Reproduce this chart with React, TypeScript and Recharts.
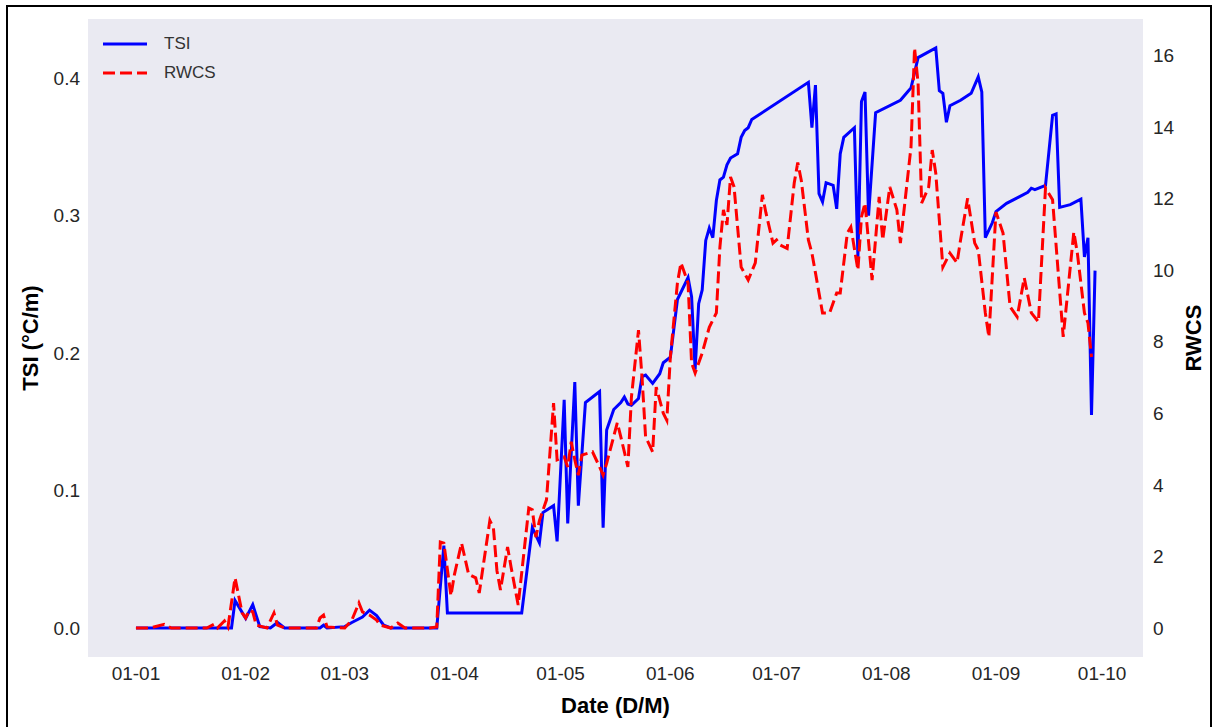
import React from 'react';
import { LineChart, Line, XAxis, YAxis, CartesianGrid, Legend, Label } from 'recharts';

// x axis: day of year, ticks on the first of each month
const MONTH_TICKS = [0, 31, 59, 90, 120, 151, 181, 212, 243, 273];
const MONTH_LABELS = ['01-01', '01-02', '01-03', '01-04', '01-05', '01-06', '01-07', '01-08', '01-09', '01-10'];
const TSI_TICKS = [0, 0.1, 0.2, 0.3, 0.4];
const RWCS_TICKS = [0, 2, 4, 6, 8, 10, 12, 14, 16];
const LEGEND_ORDER = ['TSI', 'RWCS'];

// TSI (°C/m)
const TSI_DAYS = [
  0, 27, 28, 31, 33, 35, 38, 40, 42, 52,
  53, 54, 59, 61, 64, 66, 68, 70, 72, 85,
  87, 88, 109, 112, 114, 115, 118, 119, 121, 122,
  124, 125, 127, 131, 132, 133, 135, 137, 138, 139,
  140, 142, 143, 144, 146, 148, 149, 151, 153, 156,
  157, 158, 159, 160, 161, 162, 163, 164, 165, 166,
  167, 168, 170, 171, 172, 173, 174, 190, 191, 192,
  193, 194, 195, 197, 198, 199, 200, 203, 204, 205,
  206, 207, 209, 216, 218, 219, 221, 226, 227, 228,
  229, 230, 233, 236, 238, 239, 240, 242, 243, 246,
  249, 252, 253, 254, 257, 259, 260, 261, 264, 267,
  268, 269, 270, 271,
];
const TSI_VALUES = [
  0, 0, 0.020, 0.007, 0.017, 0.001, 0, 0.004, 0, 0,
  0.002, 0, 0.001, 0.004, 0.008, 0.013, 0.009, 0.002, 0, 0,
  0.060, 0.011, 0.011, 0.073, 0.062, 0.084, 0.089, 0.063, 0.166, 0.076,
  0.179, 0.089, 0.164, 0.172, 0.073, 0.144, 0.159, 0.164, 0.168, 0.163,
  0.162, 0.167, 0.183, 0.184, 0.178, 0.185, 0.193, 0.197, 0.239, 0.255,
  0.241, 0.188, 0.236, 0.246, 0.282, 0.291, 0.284, 0.311, 0.326, 0.328,
  0.337, 0.342, 0.345, 0.357, 0.362, 0.364, 0.370, 0.397, 0.364, 0.395,
  0.316, 0.310, 0.324, 0.322, 0.305, 0.345, 0.357, 0.364, 0.270, 0.383,
  0.390, 0.300, 0.375, 0.384, 0.390, 0.393, 0.415, 0.422, 0.391, 0.389,
  0.368, 0.380, 0.384, 0.389, 0.401, 0.390, 0.284, 0.295, 0.303, 0.309,
  0.313, 0.317, 0.320, 0.319, 0.322, 0.373, 0.374, 0.306, 0.308, 0.312,
  0.270, 0.284, 0.155, 0.260,
];

// RWCS
const RWCS_DAYS = [
  0, 4, 8, 10, 20, 22, 23, 25, 26, 28,
  30, 31, 32, 33, 34, 37, 39, 40, 42, 51,
  52, 53, 54, 59, 61, 63, 64, 66, 68, 69,
  72, 74, 76, 83, 85, 86, 87, 89, 90, 92,
  94, 96, 97, 100, 101, 102, 103, 105, 106, 108,
  111, 112, 113, 114, 116, 118, 119, 121, 122, 123,
  124, 125, 126, 129, 131, 132, 133, 136, 137, 139,
  140, 142, 143, 144, 146, 147, 149, 150, 151, 153,
  154, 156, 157, 158, 160, 162, 164, 165, 166, 167,
  168, 169, 171, 173, 175, 177, 178, 180, 181, 182,
  184, 186, 187, 188, 190, 191, 192, 194, 196, 198,
  199, 201, 202, 204, 205, 206, 208, 210, 211, 213,
  215, 216, 219, 220, 221, 222, 224, 225, 226, 228,
  230, 232, 233, 235, 237, 238, 240, 241, 243, 245,
  247, 249, 251, 253, 255, 257, 259, 262, 265, 266,
  268, 269, 270,
];
const RWCS_VALUES = [
  0, 0, 0.1, 0, 0, 0.1, 0, 0.2, 0.03, 1.4,
  0.42, 0.28, 0.5, 0.45, 0.08, 0, 0.42, 0.08, 0, 0,
  0.28, 0.36, 0.03, 0, 0.22, 0.7, 0.45, 0.36, 0.22, 0.08,
  0, 0.14, 0, 0, 0.03, 2.4, 2.37, 0.9, 1.5, 2.37,
  1.5, 1.4, 0.98, 3.0, 2.8, 1.6, 1.06, 2.26, 1.7, 0.64,
  3.35, 3.3, 2.54, 3.0, 3.58, 6.28, 4.7, 4.78, 4.5, 5.2,
  4.7, 4.27, 4.83, 4.92, 4.5, 4.27, 4.6, 5.73, 5.34, 4.5,
  6.45, 8.32, 7.0, 5.34, 4.92, 6.73, 6.0, 5.8, 7.57, 9.64,
  10.2, 9.64, 7.4, 7.12, 7.68, 8.4, 8.8, 10.64, 11.68, 11.26,
  12.6, 12.32, 10.08, 9.72, 10.2, 12.1, 11.6, 10.75, 10.84, 10.7,
  10.6, 12.43, 13.0, 12.5, 10.84, 10.47, 9.92, 8.8, 8.8, 9.36,
  9.36, 11.03, 11.2, 10.0, 11.48, 11.87, 9.72, 12.04, 10.84, 12.32,
  11.68, 10.75, 13.44, 16.2, 15.22, 11.87, 12.32, 13.35, 12.7, 10.08,
  10.47, 10.2, 10.84, 12.0, 10.75, 10.56, 8.8, 8.13, 11.62, 11.03,
  8.97, 8.69, 9.78, 8.8, 8.55, 12.29, 11.96, 8.13, 11.06, 10.47,
  8.8, 8.52, 7.57,
];

const tsiData = TSI_DAYS.map((day, i) => ({ day, tsi: TSI_VALUES[i] }));
const rwcsData = RWCS_DAYS.map((day, i) => ({ day, rwcs: RWCS_VALUES[i] }));

const FONT = '"Liberation Sans", Arial, Helvetica, sans-serif';
const TEXT_COLOR = '#262626';
const PLOT_BG = '#EAEAF2';
const DASH = '12 5';

// axis ranges padded by 5% on each side, like matplotlib's autoscale
const X_DOMAIN = [-13.55, 284.55];
const TSI_DOMAIN = [-0.0211, 0.4431];
const RWCS_DOMAIN = [-0.81, 17.01];

const tickStyle = { fill: TEXT_COLOR, fontSize: 19, fontFamily: FONT };

const titleProps = {
  fill: '#000',
  fontSize: 22,
  fontWeight: 700,
  fontFamily: FONT,
  textAnchor: 'middle' as const,
  dominantBaseline: 'central' as const,
};

const LeftTitle = ({ viewBox }: any) => {
  const x = viewBox.x + 30;
  const y = viewBox.y + viewBox.height / 2;
  return (
    <text x={x} y={y} transform={`rotate(-90, ${x}, ${y})`} {...titleProps}>
      TSI (°C/m)
    </text>
  );
};

const RightTitle = ({ viewBox }: any) => {
  const x = viewBox.x + 50;
  const y = viewBox.y + viewBox.height / 2;
  return (
    <text x={x} y={y} transform={`rotate(-90, ${x}, ${y})`} {...titleProps}>
      RWCS
    </text>
  );
};

const BottomTitle = ({ viewBox }: any) => (
  <text x={viewBox.x + viewBox.width / 2} y={viewBox.y + 48} {...titleProps}>
    Date (D/M)
  </text>
);

const LegendBox = ({ payload }: any) => {
  const items = [...(payload || [])].sort(
    (a: any, b: any) => LEGEND_ORDER.indexOf(a.value) - LEGEND_ORDER.indexOf(b.value),
  );
  return (
    <div style={{ fontFamily: FONT, fontSize: 17, color: '#333' }}>
      {items.map((entry: any) => (
        <div key={entry.value} style={{ display: 'flex', alignItems: 'center', height: 29 }}>
          <svg width={46} height={10} style={{ marginRight: 16 }}>
            <line
              x1={1}
              y1={5}
              x2={45}
              y2={5}
              stroke={entry.color}
              strokeWidth={3}
              strokeDasharray={entry.payload?.strokeDasharray}
            />
          </svg>
          <span>{entry.value}</span>
        </div>
      ))}
    </div>
  );
};

const App = () => (
  <div
    style={{
      position: 'fixed',
      left: 0,
      top: 0,
      width: 1214,
      height: 727,
      background: '#fff',
      overflow: 'hidden',
    }}
  >
    <div
      style={{
        position: 'absolute',
        left: 6,
        top: 5,
        width: 1206,
        height: 760,
        border: '2px solid #000',
        boxSizing: 'border-box',
      }}
    />
    <div style={{ position: 'absolute', left: 0, top: 0 }}>
      <LineChart width={1214} height={727} margin={{ top: 19, right: 0, bottom: 0, left: 0 }}>
        <CartesianGrid horizontal={false} vertical={false} fill={PLOT_BG} stroke="none" />
        <XAxis
          type="number"
          dataKey="day"
          domain={X_DOMAIN}
          allowDataOverflow
          ticks={MONTH_TICKS}
          tickFormatter={(v: number) => MONTH_LABELS[MONTH_TICKS.indexOf(v)]}
          height={70}
          axisLine={false}
          tickLine={false}
          tickSize={0}
          tickMargin={10}
          tick={tickStyle}
        >
          <Label content={BottomTitle} />
        </XAxis>
        <YAxis
          yAxisId="left"
          orientation="left"
          domain={TSI_DOMAIN}
          allowDataOverflow
          ticks={TSI_TICKS}
          tickFormatter={(v: number) => v.toFixed(1)}
          width={88}
          axisLine={false}
          tickLine={false}
          tickSize={0}
          tickMargin={8}
          tick={tickStyle}
        >
          <Label content={LeftTitle} />
        </YAxis>
        <YAxis
          yAxisId="right"
          orientation="right"
          domain={RWCS_DOMAIN}
          allowDataOverflow
          ticks={RWCS_TICKS}
          width={71}
          axisLine={false}
          tickLine={false}
          tickSize={0}
          tickMargin={10}
          tick={{ ...tickStyle, textAnchor: 'start' }}
        >
          <Label content={RightTitle} />
        </YAxis>
        <Legend
          layout="vertical"
          align="center"
          verticalAlign="middle"
          content={LegendBox}
          wrapperStyle={{ left: 102, top: 29, width: 'auto', height: 'auto' }}
        />
        <Line
          yAxisId="left"
          data={tsiData}
          dataKey="tsi"
          name="TSI"
          type="linear"
          stroke="#0000FF"
          strokeWidth={3}
          dot={false}
          activeDot={false}
          isAnimationActive={false}
        />
        <Line
          yAxisId="right"
          data={rwcsData}
          dataKey="rwcs"
          name="RWCS"
          type="linear"
          stroke="#FF0000"
          strokeWidth={3}
          strokeDasharray={DASH}
          dot={false}
          activeDot={false}
          isAnimationActive={false}
        />
      </LineChart>
    </div>
  </div>
);

export default App;
